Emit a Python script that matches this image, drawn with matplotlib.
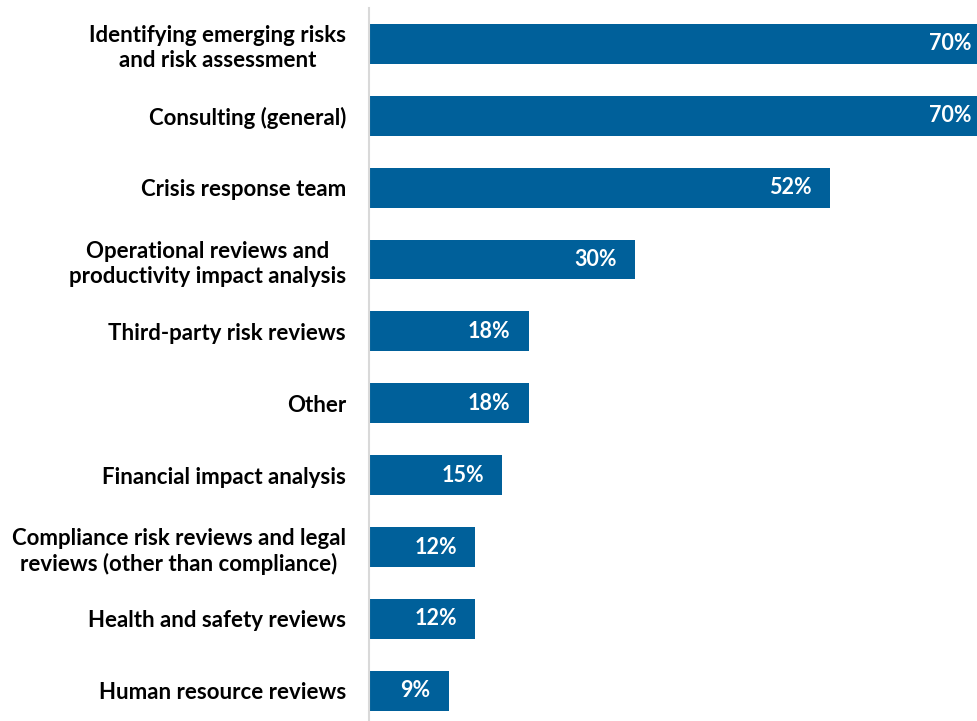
import matplotlib.pyplot as plt

# Share of respondents per activity
categories = [
    "Identifying emerging risks\nand risk assessment",
    "Consulting (general)",
    "Crisis response team",
    "Operational reviews and\nproductivity impact analysis",
    "Third-party risk reviews",
    "Other",
    "Financial impact analysis",
    "Compliance risk reviews and legal\nreviews (other than compliance)",
    "Health and safety reviews",
    "Human resource reviews",
]
values = [70, 70, 52, 30, 18, 18, 15, 12, 12, 9]

plt.rcParams['font.family'] = ['Lato', 'DejaVu Sans']

fig = plt.figure(figsize=(9.78, 7.21), dpi=100)
ax = fig.add_axes([369 / 978, 0, 1 - 369 / 978, 1])

pos = list(range(len(values)))
bars = ax.barh(pos, values, height=0.555, color='#00609a')

for b, v in zip(bars, values):
    ax.annotate(f"{v}%", (b.get_width(), b.get_y() + b.get_height() / 2),
                xytext=(-13, 0), textcoords='offset points',
                ha='right', va='center', color='white',
                fontsize=15.5, fontweight='bold', annotation_clip=False)

ax.set_xlim(0, 68.7)
ax.set_ylim(9.42, -0.61)
ax.set_yticks(pos)
ax.set_yticklabels(categories, fontsize=16, fontweight='bold',
                   multialignment='center', linespacing=1.25)
ax.tick_params(axis='y', length=0, pad=16.5)
ax.set_xticks([])

for s in ['top', 'right', 'bottom']:
    ax.spines[s].set_visible(False)
ax.spines['left'].set_color('#d9d9d9')
ax.spines['left'].set_linewidth(1.5)
ax.spines['left'].set_bounds(9.42, -0.5)

fig.savefig('out.png', dpi=100)
